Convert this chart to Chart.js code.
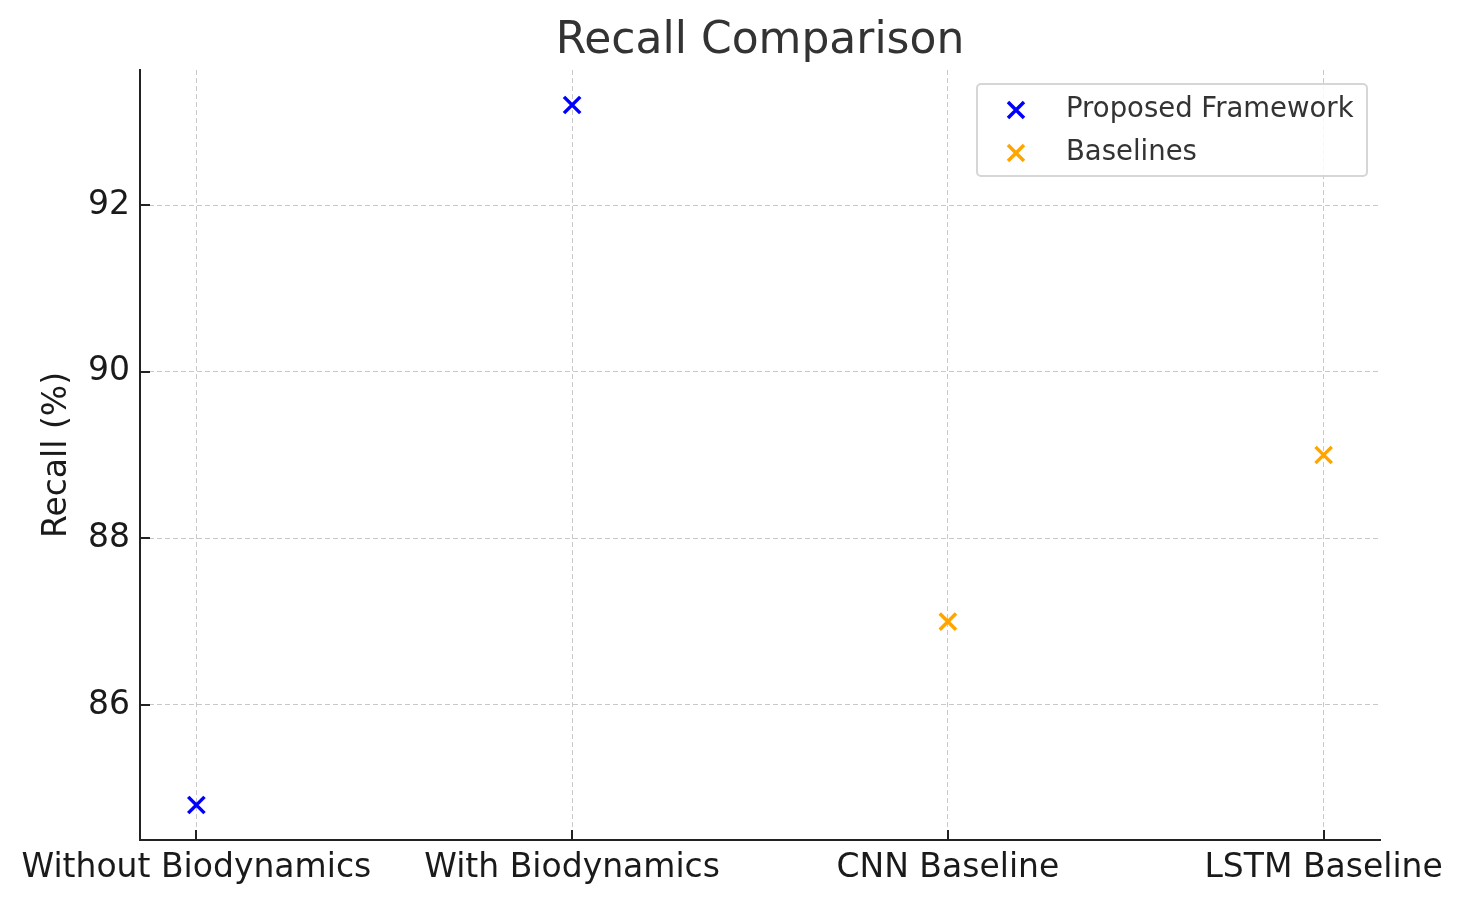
<!DOCTYPE html>
<html>
<head>
<meta charset="utf-8">
<script src="https://cdn.jsdelivr.net/npm/chart.js@4.4.1/dist/chart.umd.min.js"></script>
<style>
  html, body { margin: 0; padding: 0; background: #fff; }
  #wrap { width: 1464px; height: 903px; }
</style>
</head>
<body>
<div id="wrap"><canvas id="recall"></canvas></div>
<script>
/* DATA */

var categories = ["Without Biodynamics", "With Biodynamics", "CNN Baseline", "LSTM Baseline"];
var proposedIdx = [0, 1];
var proposedRecall = [84.8, 93.2];
var baselineIdx = [2, 3];
var baselineRecall = [87.0, 89.0];
var yTicks = [86, 88, 90, 92];

/* CHART */

var FONT = "'DejaVu Sans', sans-serif";

function toPoints(xs, ys) {
    return xs.map((x, i) => ({ x: x, y: ys[i] }));
}

// like matplotlib: 5% margin around the data
var allY = proposedRecall.concat(baselineRecall);
var yMin = Math.min.apply(null, allY), yMax = Math.max.apply(null, allY);
var yPad = (yMax - yMin) * 0.05;
var xPad = (categories.length - 1) * 0.05;

// title over plot centre, inward tick marks, legend inside the plot
var decorPlugin = {
    id: 'decor',
    afterDraw(chart) {
        var ctx = chart.ctx, area = chart.chartArea;
        var xs = chart.scales.x, ys = chart.scales.y;
        ctx.save();

        ctx.fillStyle = "#333";
        ctx.font = "44px " + FONT;
        ctx.textAlign = "center";
        ctx.textBaseline = "middle";
        ctx.fillText("Recall Comparison", (area.left + area.right) / 2, 42);

        ctx.strokeStyle = "#222";
        ctx.lineWidth = 2;
        ctx.beginPath();
        categories.forEach((c, i) => {
            var px = Math.round(xs.getPixelForValue(i));
            ctx.moveTo(px, area.bottom);
            ctx.lineTo(px, area.bottom - 10);
        });
        yTicks.forEach(v => {
            var py = Math.round(ys.getPixelForValue(v));
            ctx.moveTo(area.left, py);
            ctx.lineTo(area.left + 10, py);
        });
        ctx.stroke();

        // legend
        var bx = 977, by = 84, bw = 390, bh = 92;
        ctx.fillStyle = "rgba(255,255,255,0.85)";
        ctx.strokeStyle = "#d6d6d6";
        ctx.lineWidth = 2;
        ctx.beginPath();
        ctx.roundRect(bx, by, bw, bh, 4);
        ctx.fill();
        ctx.stroke();

        ctx.font = "27.5px " + FONT;
        ctx.textBaseline = "middle";
        ctx.textAlign = "left";
        chart.data.datasets.forEach((ds, i) => {
            var cy = by + 26 + i * 43;
            var cx = bx + 39;
            ctx.strokeStyle = ds.borderColor;
            ctx.lineWidth = 3.5;
            ctx.beginPath();
            ctx.moveTo(cx - 8, cy - 8); ctx.lineTo(cx + 8, cy + 8);
            ctx.moveTo(cx + 8, cy - 8); ctx.lineTo(cx - 8, cy + 8);
            ctx.stroke();
            ctx.fillStyle = "#333";
            ctx.fillText(ds.label, bx + 89, cy);
        });
        ctx.restore();
    }
};

var ctx = document.getElementById('recall').getContext('2d');

var recallChart = new Chart(ctx, {
    type: 'scatter',
    data: {
        datasets: [
            {
                label: 'Proposed Framework',
                data: toPoints(proposedIdx, proposedRecall),
                pointStyle: 'crossRot',
                radius: 11.5,
                borderColor: '#0000ff',
                backgroundColor: '#0000ff',
                borderWidth: 3.5
            },
            {
                label: 'Baselines',
                data: toPoints(baselineIdx, baselineRecall),
                pointStyle: 'crossRot',
                radius: 11.5,
                borderColor: '#ffa500',
                backgroundColor: '#ffa500',
                borderWidth: 3.5
            }
        ]
    },
    options: {
        responsive: true,
        maintainAspectRatio: false,
        devicePixelRatio: 1,
        animation: false,
        layout: {
            padding: { top: 70, right: 84, bottom: 0, left: 38 }
        },
        scales: {
            x: {
                type: 'linear',
                min: -xPad,
                max: categories.length - 1 + xPad,
                afterBuildTicks: axis => {
                    axis.ticks = categories.map((c, i) => ({ value: i }));
                },
                afterFit: axis => { axis.height = 63; },
                grid: {
                    color: '#c8c8c8',
                    lineWidth: 1,
                    drawTicks: false
                },
                border: { display: true, color: '#222', width: 2, dash: [5, 3] },
                ticks: {
                    padding: 9,
                    color: '#1a1a1a',
                    maxRotation: 0,
                    autoSkip: false,
                    font: { family: FONT, size: 33 },
                    callback: function (value) {
                        return categories[value];
                    }
                }
            },
            y: {
                min: yMin - yPad,
                max: yMax + yPad,
                afterBuildTicks: axis => {
                    axis.ticks = yTicks.map(v => ({ value: v }));
                },
                afterFit: axis => { axis.width = 102; },
                grid: {
                    color: '#c8c8c8',
                    lineWidth: 1,
                    drawTicks: false
                },
                border: { display: true, color: '#222', width: 2, dash: [5, 3] },
                title: {
                    display: true,
                    text: 'Recall (%)',
                    color: '#1a1a1a',
                    font: { family: FONT, size: 33 },
                    padding: { top: 0, bottom: 0 }
                },
                ticks: {
                    padding: 10,
                    color: '#1a1a1a',
                    font: { family: FONT, size: 33 }
                }
            }
        },
        plugins: {
            legend: { display: false },
            tooltip: { enabled: false },
            title: { display: false }
        }
    },
    plugins: [decorPlugin]
});
</script>
</body>
</html>
